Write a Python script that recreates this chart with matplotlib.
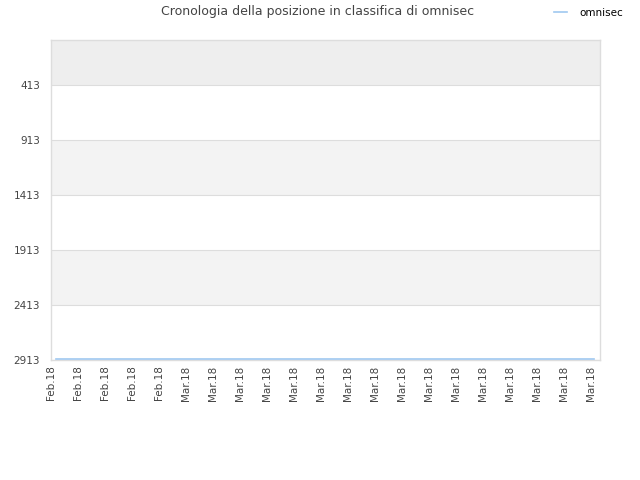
import matplotlib
matplotlib.use("Agg")
import matplotlib.pyplot as plt
import matplotlib.dates as mdates
import numpy as np
import pandas as pd

title = "Cronologia della posizione in classifica di omnisec"
series_name = "omnisec"
line_dates = ["2018-02-20 08:00", "2018-02-27 00:00", "2018-03-05 00:00", "2018-03-12 00:00",
              "2018-03-19 00:00", "2018-03-26 00:00", "2018-03-30 05:00"]
line_ranks = [2905, 2905, 2905, 2905, 2905, 2905, 2905]
y_ticks = [413, 913, 1413, 1913, 2413, 2913]
tick_start = "2018-02-20"
tick_count = 21
tick_step_hours = 45.6

fig = plt.figure(figsize=(6.4, 4.8), dpi=100)
ax = fig.add_axes([51/640, 120/480, 549/640, 320/480])

t0 = pd.Timestamp(tick_start)
tick_dates = [t0 + pd.Timedelta(hours=tick_step_hours * i) for i in range(tick_count)]
x_left = mdates.date2num(t0)
x_right = mdates.date2num(t0 + pd.Timedelta(hours=tick_step_hours * 20.33))

y_top = 1
y_bot = 2913
band_edges = [y_top] + y_ticks
for i in range(len(band_edges) - 1):
    a, b = band_edges[i], band_edges[i + 1]
    if i == 0:
        c = "#eeeeee"
    elif i % 2 == 0:
        c = "#f3f3f3"
    else:
        c = "#ffffff"
    ax.axhspan(a, b, color=c, zorder=0, lw=0)
for yt in y_ticks:
    ax.axhline(yt, color="#dddddd", lw=0.8, zorder=1)

xd = mdates.date2num(pd.to_datetime(line_dates, format="%Y-%m-%d %H:%M"))
ax.plot(xd, line_ranks, color="#a0c8f0", lw=1.2, zorder=3, label=series_name)

ax.set_ylim(y_bot, y_top)
ax.set_xlim(x_left, x_right)
ax.set_yticks(y_ticks)
ax.set_yticklabels([str(v) for v in y_ticks])
ax.set_xticks(mdates.date2num(tick_dates))
ax.xaxis.set_major_formatter(mdates.DateFormatter("%b.%y"))
for lab in ax.get_xticklabels():
    lab.set_rotation(90)
ax.tick_params(axis="both", length=0, labelsize=7.5, colors="#444444", pad=8)
ax.tick_params(axis="x", pad=4)
for s in ax.spines.values():
    s.set_color("#dddddd")
    s.set_linewidth(1)

fig.text(318/640, 1 - 12/480, title, ha="center", va="center", fontsize=9, color="#444444")
fig.legend(loc="center left", bbox_to_anchor=(550/640, 1 - 13/480), frameon=False,
           fontsize=7.5, handlelength=1.2, handletextpad=1.2, borderaxespad=0)

fig.savefig("out.png", dpi=100, facecolor="white")
